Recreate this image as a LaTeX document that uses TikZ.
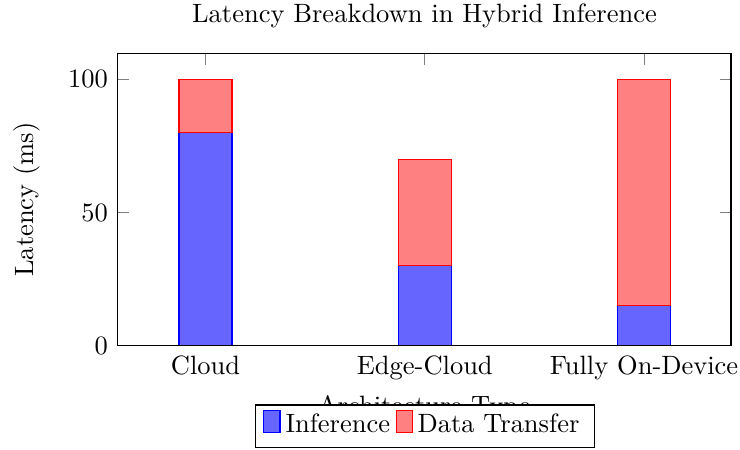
\documentclass[tikz,border=0pt]{standalone}
\usetikzlibrary{calc}
\definecolor{barblue}{RGB}{102,102,255}
\definecolor{barred}{RGB}{255,128,128}
\begin{document}
\begin{tikzpicture}[x=0.3774pt,y=-0.3774pt,
    frame/.style={draw=black,line width=0.4pt},
    tickmark/.style={draw=gray,line width=0.3pt},
    inferbar/.style={fill=barblue,draw=blue,line width=0.5pt},
    transbar/.style={fill=barred,draw=red,line width=0.5pt},
    ticklabel/.style={inner sep=0pt,anchor=base},
    ylabelnode/.style={inner sep=0pt,anchor=base,rotate=90},
    legendframe/.style={draw=black,fill=white,line width=0.4pt,inner sep=0pt,
      minimum width=127.8pt,minimum height=16.1pt},
    legendtext/.style={inner sep=0pt,anchor=base west}]
  \useasboundingbox (0,0) rectangle (740,449);

  % plot area corners
  \coordinate (SW) at (117.3,345.7);
  \coordinate (NE) at (731,53.3);

  % ticks on the top edge and on both vertical edges
  \foreach \xx in {205.5,424.8,644} {
    \draw[tickmark] (\xx,53.3) -- ++(0,11.3);
  }
  \foreach \yy in {79.3,212.5,345.7} {
    \draw[tickmark] (117.3,\yy) -- ++(11.3,0);
    \draw[tickmark] (731,\yy) -- ++(-11.3,0);
  }

  % stacked bars: inference (bottom) and data transfer (top)
  \draw[inferbar] (179,345.7) rectangle (232,132.6);
  \draw[transbar] (179,132.6) rectangle (232,79.3);
  \draw[inferbar] (398.3,345.7) rectangle (451.3,265.8);
  \draw[transbar] (398.3,265.8) rectangle (451.3,159.2);
  \draw[inferbar] (617.5,345.7) rectangle (670.5,305.7);
  \draw[transbar] (617.5,305.7) rectangle (670.5,79.3);

  % axis frame
  \draw[frame] (SW) rectangle (NE);

  % y tick labels
  \node[anchor=east] (y100) at (117.3,79.3) {100};
  \node[anchor=east] (y50) at (117.3,212.5) {50};
  \node[anchor=east] (y0) at (117.3,345.7) {0};

  % x tick labels
  \node[ticklabel] (xcloud) at (205.5,374.3) {Cloud};
  \node[ticklabel] (xedge) at (424.8,374.3) {Edge-Cloud};
  \node[ticklabel] (xfully) at (644,374.3) {Fully On-Device};

  % title and axis labels
  \node[ticklabel] (title) at (424.5,22.7) {Latency Breakdown in Hybrid Inference};
  \node[ylabelnode] (ylab) at (33,199.5) {Latency (ms)};
  \node[ticklabel] (xlab) at (424.2,414) {Architecture Type};

  % legend
  \node[legendframe] (legend) at (425,426.35) {};
  \draw[inferbar] (263.5,410.7) rectangle (280,432.3);
  \node[legendtext] (leginf) at (285,432.3) {Inference};
  \draw[transbar] (396.5,410.7) rectangle (412.5,432.3);
  \node[legendtext] (legdata) at (417,432.3) {Data Transfer};
\end{tikzpicture}
\end{document}
